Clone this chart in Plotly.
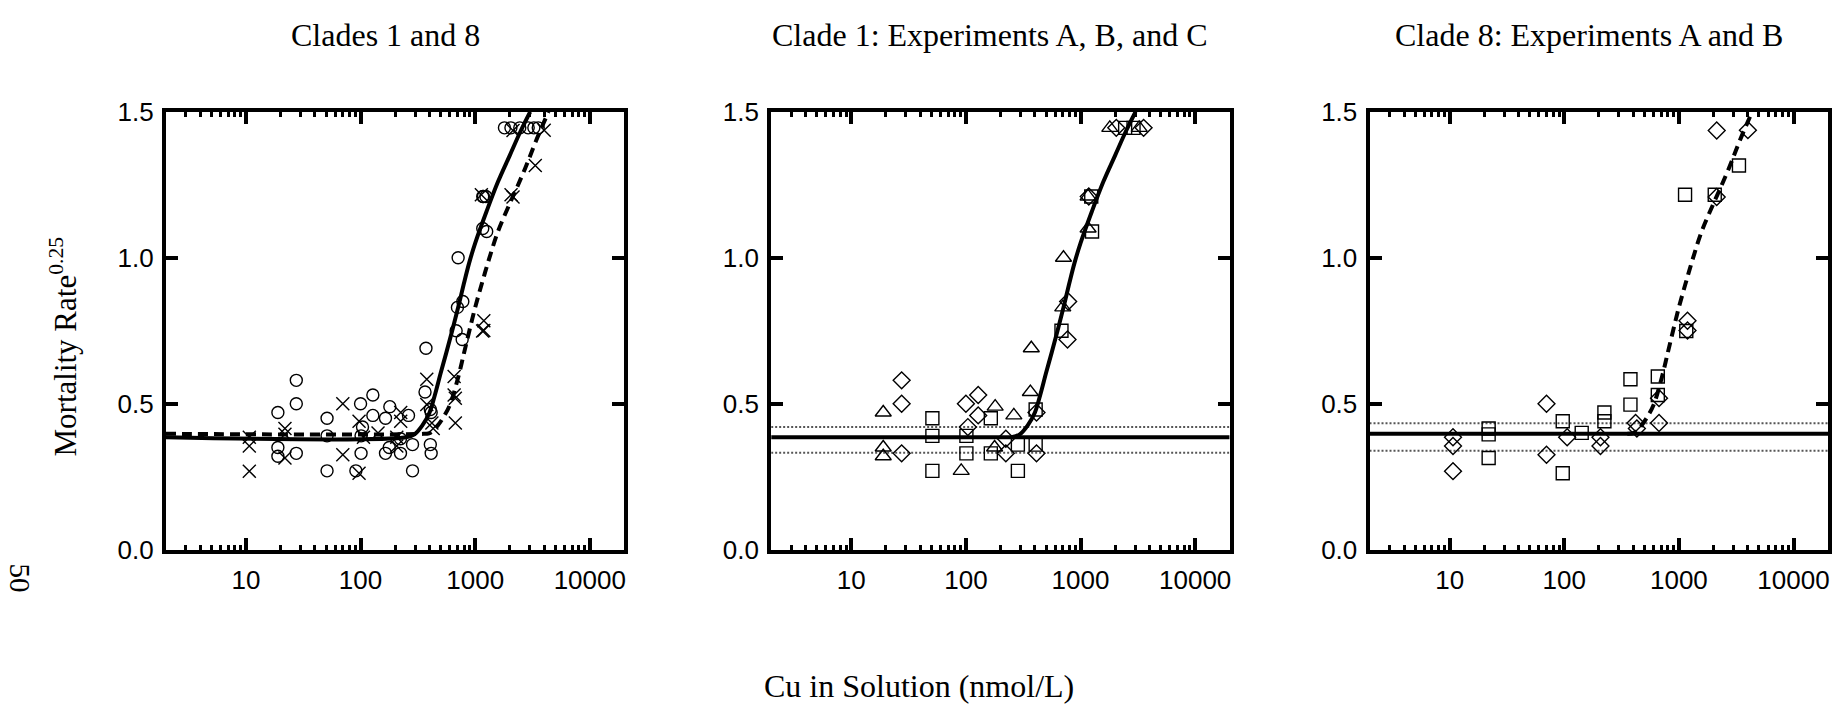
import math
import plotly.graph_objects as go

# ---------------- data ----------------
# Clade 1, experiment A (triangles)
c1a_cu = [19, 19, 19, 91, 178, 180, 262, 365, 372, 700, 710, 1164, 1164, 1800, 3250]
c1a_mort = [0.47, 0.35, 0.32, 0.27, 0.35, 0.49, 0.46, 0.54, 0.69, 0.83, 1.00, 1.10, 1.21, 1.445, 1.445]

# Clade 1, experiment B (squares)
c1b_cu = [51, 51, 51, 101, 101, 165, 165, 284, 284, 406, 406, 682, 1240, 1260, 2450, 2900]
c1b_mort = [0.45, 0.39, 0.27, 0.39, 0.33, 0.45, 0.33, 0.36, 0.27, 0.48, 0.36, 0.75, 1.21, 1.09, 1.445, 1.445]

# Clade 1, experiment C (diamonds)
c1c_cu = [27.5, 27.5, 27.5, 100, 104, 128, 128, 223, 223, 413, 413, 770, 780, 1180, 2050, 3550]
c1c_mort = [0.58, 0.50, 0.33, 0.50, 0.42, 0.53, 0.46, 0.38, 0.33, 0.47, 0.33, 0.72, 0.85, 1.21, 1.445, 1.445]

# Clade 8, experiment A (diamonds)
c8a_cu = [10.7, 10.7, 10.7, 70, 70, 106, 207, 207, 419, 430, 671, 671, 1189, 1189, 2138, 2138, 4000]
c8a_mort = [0.385, 0.355, 0.269, 0.50, 0.325, 0.385, 0.385, 0.355, 0.434, 0.415, 0.519, 0.434,
            0.784, 0.751, 1.436, 1.208, 1.437]

# Clade 8, experiment B (squares)
c8b_cu = [21.9, 21.9, 21.9, 97, 97, 142, 224, 224, 378, 378, 655, 655, 1132, 1160, 2055, 3343]
c8b_mort = [0.415, 0.395, 0.314, 0.44, 0.262, 0.40, 0.47, 0.44, 0.584, 0.497, 0.593, 0.53,
            1.216, 0.749, 1.216, 1.316]

# Fitted threshold curves
c1_fit_cu = [2, 250, 295, 345, 400, 445, 500, 560, 630, 710, 795, 890, 1000, 1260, 1580, 2000, 2500, 3020]
c1_fit_mort = [0.385, 0.385, 0.395, 0.425, 0.47, 0.53, 0.605, 0.675, 0.75, 0.83, 0.91, 0.985,
               1.05, 1.16, 1.26, 1.35, 1.435, 1.50]
c8_fit_cu = [2, 355, 405, 470, 525, 600, 710, 795, 890, 1000, 1150, 1320, 1580, 2000, 2340, 2820, 3390, 4360]
c8_fit_mort = [0.397, 0.397, 0.40, 0.425, 0.452, 0.495, 0.59, 0.67, 0.75, 0.83, 0.915, 0.995,
               1.09, 1.185, 1.245, 1.32, 1.40, 1.50]

# Control-level mortality with confidence band
c1_base, c1_lo, c1_hi = 0.385, 0.332, 0.42
c8_base, c8_lo, c8_hi = 0.397, 0.339, 0.433

cu_range = [2, 20000]
x_ticks = [10, 100, 1000, 10000]
x_tick_text = ["10", "100", "1000", "10000"]
y_ticks = [0.0, 0.5, 1.0, 1.5]
y_tick_text = ["0.0", "0.5", "1.0", "1.5"]

panel_titles = ["Clades 1 and 8", "Clade 1: Experiments A, B, and C", "Clade 8: Experiments A and B"]
x_title = "Cu in Solution (nmol/L)"
y_title = "Mortality Rate<sup>0.25</sup>"
page_number = "50"

# ---------------- layout geometry ----------------
W, H = 1840, 718
panels_px = [(166, 625), (772, 1231), (1371, 1830)]
top_px, bottom_px = 101, 558
SERIF = "Liberation Serif"
SANS = "Liberation Sans"

fig = go.Figure()

def mk(sym, size):
    # open symbols take their stroke colour from marker.color
    return dict(symbol=sym, size=size, color="black",
                line=dict(color="black", width=1.4))

def line_style(dash="solid", width=4, color="black"):
    return dict(color=color, width=width, dash=dash)

DASH = "10px,6px"
DOT = "2px,2px"

# Panel 1: both clades pooled
fig.add_trace(go.Scatter(x=c1_fit_cu, y=c1_fit_mort, mode="lines", line_shape="spline",
                         line=line_style(), xaxis="x", yaxis="y"))
fig.add_trace(go.Scatter(x=c8_fit_cu, y=c8_fit_mort, mode="lines", line_shape="spline",
                         line=line_style(DASH), xaxis="x", yaxis="y"))
fig.add_trace(go.Scatter(x=c1a_cu + c1b_cu + c1c_cu, y=c1a_mort + c1b_mort + c1c_mort,
                         mode="markers", marker=mk("circle-open", 12), xaxis="x", yaxis="y"))
fig.add_trace(go.Scatter(x=c8a_cu + c8b_cu, y=c8a_mort + c8b_mort,
                         mode="markers", marker=mk("x-thin-open", 13), xaxis="x", yaxis="y"))

# Panel 2: clade 1 experiments
for v in (c1_hi, c1_lo):
    fig.add_trace(go.Scatter(x=cu_range, y=[v, v], mode="lines",
                             line=line_style(DOT, 2, "#555555"), xaxis="x2", yaxis="y2"))
fig.add_trace(go.Scatter(x=cu_range, y=[c1_base, c1_base], mode="lines",
                         line=line_style(), xaxis="x2", yaxis="y2"))
fig.add_trace(go.Scatter(x=c1_fit_cu[1:], y=c1_fit_mort[1:], mode="lines", line_shape="spline",
                         line=line_style(), xaxis="x2", yaxis="y2"))
fig.add_trace(go.Scatter(x=c1a_cu, y=c1a_mort, mode="markers", marker=mk("triangle-up-open", 14),
                         xaxis="x2", yaxis="y2"))
fig.add_trace(go.Scatter(x=c1b_cu, y=c1b_mort, mode="markers", marker=mk("square-open", 13),
                         xaxis="x2", yaxis="y2"))
fig.add_trace(go.Scatter(x=c1c_cu, y=c1c_mort, mode="markers", marker=mk("diamond-open", 13),
                         xaxis="x2", yaxis="y2"))

# Panel 3: clade 8 experiments
for v in (c8_hi, c8_lo):
    fig.add_trace(go.Scatter(x=cu_range, y=[v, v], mode="lines",
                             line=line_style(DOT, 2, "#555555"), xaxis="x3", yaxis="y3"))
fig.add_trace(go.Scatter(x=cu_range, y=[c8_base, c8_base], mode="lines",
                         line=line_style(), xaxis="x3", yaxis="y3"))
fig.add_trace(go.Scatter(x=c8_fit_cu[1:], y=c8_fit_mort[1:], mode="lines", line_shape="spline",
                         line=line_style(DASH), xaxis="x3", yaxis="y3"))
fig.add_trace(go.Scatter(x=c8a_cu, y=c8a_mort, mode="markers", marker=mk("diamond-open", 13),
                         xaxis="x3", yaxis="y3"))
fig.add_trace(go.Scatter(x=c8b_cu, y=c8b_mort, mode="markers", marker=mk("square-open", 13),
                         xaxis="x3", yaxis="y3"))

y_dom = [(H - bottom_px) / H, (H - top_px) / H]

def xaxis(i):
    l, r = panels_px[i]
    return dict(
        type="log", range=[math.log10(cu_range[0]), math.log10(cu_range[1])],
        domain=[l / W, r / W], anchor="y" if i == 0 else f"y{i+1}",
        showline=True, linewidth=4, linecolor="black", mirror="allticks",
        ticks="inside", ticklen=12, tickwidth=3.5, tickcolor="black",
        tickmode="array", tickvals=x_ticks, ticktext=x_tick_text,
        tickfont=dict(family=SANS, size=26, color="black"), ticklabelstandoff=4,
        minor=dict(ticks="inside", ticklen=5, tickwidth=3, tickcolor="black",
                   dtick="D1", showgrid=False),
        showgrid=False, zeroline=False, fixedrange=True,
    )

def yaxis(i):
    return dict(
        range=[0, 1.5], domain=y_dom, anchor="x" if i == 0 else f"x{i+1}",
        showline=True, linewidth=4, linecolor="black", mirror="allticks",
        ticks="inside", ticklen=12, tickwidth=3.5, tickcolor="black",
        tickmode="array", tickvals=y_ticks, ticktext=y_tick_text,
        tickfont=dict(family=SANS, size=26, color="black"), ticklabelstandoff=3,
        showgrid=False, zeroline=False, fixedrange=True,
    )

annotations = []
for i, t in enumerate(panel_titles):
    l, r = panels_px[i]
    cx = (l + r) / 2 - 10
    annotations.append(dict(text=t, x=cx / W, y=(H - 21) / H, xref="paper", yref="paper",
                            xanchor="center", yanchor="middle", showarrow=False,
                            font=dict(family=SERIF, size=32, color="black")))
annotations.append(dict(text=x_title, x=0.5, y=(H - 700) / H, xref="paper", yref="paper",
                        xanchor="center", yanchor="middle", showarrow=False,
                        font=dict(family=SERIF, size=32, color="black")))
annotations.append(dict(text=y_title, x=64 / W, y=(H - 346) / H, xref="paper", yref="paper",
                        xanchor="center", yanchor="middle", showarrow=False, textangle=-90,
                        font=dict(family=SERIF, size=31, color="black")))
annotations.append(dict(text=page_number, x=20 / W, y=(H - 588) / H, xref="paper", yref="paper",
                        xanchor="center", yanchor="middle", showarrow=False, textangle=90,
                        font=dict(family=SERIF, size=29, color="black")))

fig.update_layout(
    width=W, height=H, autosize=False,
    margin=dict(l=0, r=0, t=0, b=0, pad=0),
    paper_bgcolor="white", plot_bgcolor="white",
    showlegend=False,
    xaxis=xaxis(0), xaxis2=xaxis(1), xaxis3=xaxis(2),
    yaxis=yaxis(0), yaxis2=yaxis(1), yaxis3=yaxis(2),
    annotations=annotations,
)

fig.write_html("out.html", config={"displayModeBar": False})
